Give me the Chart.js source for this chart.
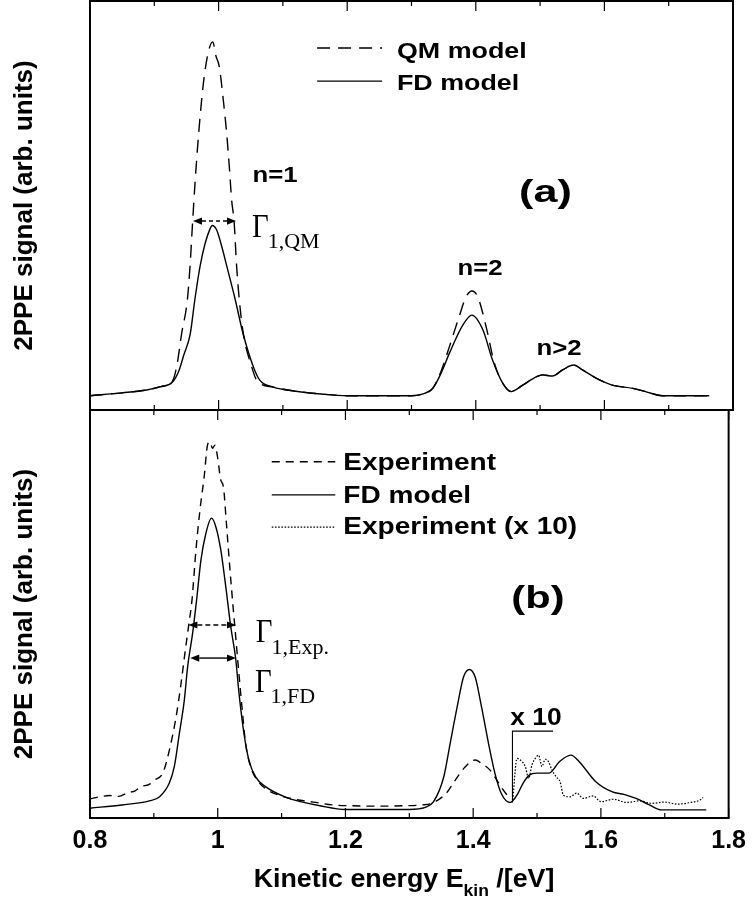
<!DOCTYPE html>
<html>
<head>
<meta charset="utf-8">
<script src="https://cdn.jsdelivr.net/npm/chart.js@4.4.1/dist/chart.umd.min.js"></script>
<style>
html,body{margin:0;padding:0;background:#fff;}
#wrap{position:relative;width:754px;height:898px;background:#fff;}
canvas{position:absolute;left:0;top:0;}
</style>
</head>
<body>
<div id="wrap">
<canvas id="cTop" width="754" height="898"></canvas>
<canvas id="cBot" width="754" height="898"></canvas>
</div>
<script>
// ---------------- data ----------------
const xTickLabels = ['0.8', '1', '1.2', '1.4', '1.6', '1.8'];

// panel (a)
const energyTopQM = [0.800,0.850,0.888,0.910,0.928,0.9348,0.9425,0.9514,0.9555,0.9597,0.9633,0.967,0.9712,0.9763,0.983,0.9908,0.996,1.0011,1.0073,1.0126,1.0167,1.0203,1.024,1.0281,1.0322,1.0384,1.0514,1.0592,1.085,1.12,1.16,1.20,1.30,1.315,1.333,1.346,1.359,1.374,1.385,1.394,1.403,1.416,1.429,1.442,1.455,1.473,1.494,1.504,1.519,1.535,1.552,1.566,1.587,1.612,1.644,1.664,1.690,1.763];
const signalTopQM = [3.5,4.2,4.9,5.7,7.0,10.6,18.7,26.9,35.0,46.3,55.4,63.6,71.7,79.8,86.8,90.0,86.5,83.9,75.8,67.6,59.4,51.3,46.3,35.0,26.9,18.7,10.6,7.3,5.6,4.6,3.9,3.5,3.5,3.8,5.3,9.5,15.5,22.8,27.7,29.1,27.7,20.4,11.4,6.5,4.5,6.1,8.1,8.6,8.3,9.8,11.0,9.8,7.8,6.1,5.3,4.5,3.5,3.5];

const energyTopFD = [0.800,0.850,0.888,0.910,0.928,0.938,0.946,0.956,0.963,0.971,0.979,0.987,0.990,0.997,1.005,1.013,1.026,1.038,1.054,1.064,1.085,1.12,1.16,1.20,1.30,1.315,1.333,1.346,1.359,1.380,1.394,1.411,1.426,1.442,1.455,1.473,1.494,1.504,1.519,1.535,1.552,1.566,1.587,1.612,1.644,1.664,1.690,1.763];
const signalTopFD = [3.5,4.2,4.9,5.7,6.8,9.5,13.5,18.7,26.9,35.0,40.7,44.4,45.1,44.0,39.9,35.0,26.9,18.7,10.6,7.3,5.6,4.6,3.9,3.5,3.5,3.8,5.3,9.0,13.9,20.8,23.2,19.6,12.2,6.5,4.5,6.1,8.1,8.6,8.3,9.8,11.0,9.8,7.8,6.1,5.3,4.5,3.5,3.5];

// panel (b)
const energyBotExp = [0.800,0.815,0.831,0.845,0.859,0.870,0.880,0.892,0.901,0.914,0.9244,0.9348,0.9426,0.9493,0.9545,0.9597,0.9659,0.9722,0.9788,0.984,0.9877,0.9918,0.9955,0.9996,1.0048,1.0089,1.0136,1.0188,1.024,1.0266,1.0322,1.0384,1.0436,1.0514,1.0618,1.075,1.0955,1.12,1.15,1.18,1.21,1.25,1.29,1.32,1.335,1.358,1.372,1.388,1.403,1.413,1.426,1.437,1.447,1.457];
const signalBotExp = [4.7,5.2,5.5,5.3,6.2,6.6,7.7,8.2,9.3,11.0,16.7,24.8,33.0,41.2,47.2,53.4,65.7,75.5,83.7,91.4,92.2,90.6,91.4,88.6,82.8,81.2,72.2,61.6,51.8,47.2,37.1,26.5,18.3,12.6,9.3,7.2,5.6,4.6,3.9,3.2,3.0,2.9,3.0,3.2,3.6,6.1,9.3,12.6,14.2,13.4,11.8,9.3,6.9,4.8];

const energyBotFD = [0.800,0.850,0.893,0.909,0.924,0.932,0.940,0.9477,0.9529,0.9607,0.9669,0.9737,0.9815,0.9902,0.997,1.0048,1.0126,1.0204,1.0281,1.0333,1.041,1.0488,1.0593,1.0748,1.105,1.13,1.16,1.20,1.30,1.325,1.338,1.354,1.364,1.375,1.385,1.394,1.403,1.413,1.424,1.434,1.444,1.458,1.470,1.478,1.488,1.499,1.519,1.535,1.553,1.566,1.592,1.618,1.636,1.655,1.675,1.695,1.765];
const signalBotFD = [2.4,3.2,4.2,5.2,8.5,12.6,20.8,28.9,37.1,45.3,53.4,63.2,69.8,73.5,71.4,65.7,56.7,46.9,39.1,30.6,20.8,14.2,10.1,7.7,5.2,4.0,3.0,2.1,2.1,2.6,4.0,10.1,18.3,27.3,34.6,36.4,34.6,27.3,18.3,11.0,6.0,3.8,6.0,8.5,10.5,11.0,11.0,13.8,15.4,13.8,8.9,6.4,5.8,4.8,3.3,2.0,2.0];

const energyBotExp10 = [1.462,1.4687,1.4739,1.4817,1.4869,1.492,1.4972,1.5025,1.5076,1.5128,1.518,1.5232,1.530,1.5361,1.5413,1.5517,1.562,1.5724,1.588,1.600,1.620,1.640,1.660,1.680,1.700,1.720,1.740,1.755,1.760];
const signalBotExp10 = [4.5,14.6,14.2,12.6,9.7,13.0,14.6,15.4,12.6,14.4,13.8,11.8,10.1,8.9,5.6,5.2,6.1,4.8,5.4,4.0,4.6,3.8,4.2,3.6,3.9,3.4,3.8,4.4,5.0];

// ---------------- helpers ----------------
const SANS = "'Liberation Sans', Arial, Helvetica, sans-serif";
const SERIF = "'Liberation Serif', 'Times New Roman', serif";
Chart.defaults.font.family = SANS;
Chart.defaults.color = '#000';

function pts(xs, ys) { return xs.map((x, i) => ({ x: x, y: ys[i] })); }

function lineDs(label, xs, ys, dash, width) {
  return {
    label: label, data: pts(xs, ys), borderColor: '#000', backgroundColor: '#000',
    borderWidth: width, borderDash: dash, pointRadius: 0, fill: false,
    cubicInterpolationMode: 'monotone'
  };
}

function isMajorTick(v) { return xTickLabels.includes(String(Math.round(v * 10) / 10)); }

function drawText(ctx, txt, x, y, font, sx, align) {
  ctx.save();
  ctx.font = font; ctx.textBaseline = 'alphabetic'; ctx.textAlign = 'left';
  const w = ctx.measureText(txt).width * sx;
  const x0 = align === 'center' ? x - w / 2 : x;
  ctx.translate(x0, y); ctx.scale(sx, 1);
  ctx.fillStyle = '#000'; ctx.fillText(txt, 0, 0);
  ctx.restore();
  return w;
}

function drawArrow(ctx, x1, x2, y, dash) {
  const hl = 9, hw = 3.6;
  ctx.save();
  ctx.strokeStyle = '#000'; ctx.fillStyle = '#000'; ctx.lineWidth = 1.4;
  ctx.setLineDash(dash);
  ctx.beginPath(); ctx.moveTo(x1 + hl, y); ctx.lineTo(x2 - hl, y); ctx.stroke();
  ctx.setLineDash([]);
  ctx.beginPath(); ctx.moveTo(x1, y); ctx.lineTo(x1 + hl, y - hw); ctx.lineTo(x1 + hl, y + hw); ctx.closePath(); ctx.fill();
  ctx.beginPath(); ctx.moveTo(x2, y); ctx.lineTo(x2 - hl, y - hw); ctx.lineTo(x2 - hl, y + hw); ctx.closePath(); ctx.fill();
  ctx.restore();
}

function makeDecor(cfg) {
  return {
    id: 'decor' + cfg.name,
    afterDraw(chart) {
      const ctx = chart.ctx, a = chart.chartArea;
      const xs = chart.scales.x, ys = chart.scales.y;
      const px = v => xs.getPixelForValue(v), py = v => ys.getPixelForValue(v);
      ctx.save();
      // frame
      ctx.strokeStyle = '#000'; ctx.lineWidth = 2; ctx.setLineDash([]);
      ctx.strokeRect(a.left, a.top, a.right - a.left, a.bottom - a.top);
      // inward tick marks on top and bottom edges
      ctx.lineWidth = 1.2;
      xs.ticks.forEach(t => {
        const x = px(t.value);
        const len = isMajorTick(t.value) ? 10 : 5;
        ctx.beginPath();
        ctx.moveTo(x, a.top); ctx.lineTo(x, a.top + len);
        ctx.moveTo(x, a.bottom); ctx.lineTo(x, a.bottom - len);
        ctx.stroke();
      });
      // y title
      ctx.save();
      ctx.translate(a.left - 65, (a.top + a.bottom) / 2);
      ctx.rotate(-Math.PI / 2);
      ctx.font = 'bold 26px ' + SANS; ctx.textAlign = 'center'; ctx.textBaseline = 'middle';
      ctx.fillStyle = '#000';
      ctx.fillText(cfg.yTitle, 0, 0);
      ctx.restore();
      // legend
      const lg = cfg.legend;
      lg.rows.forEach(r => {
        const ds = chart.data.datasets[r.ds];
        ctx.save();
        ctx.strokeStyle = '#000'; ctx.lineWidth = ds.borderWidth;
        ctx.setLineDash(ds.borderDash || []);
        ctx.beginPath(); ctx.moveTo(px(lg.x1), py(r.y)); ctx.lineTo(px(lg.x2), py(r.y)); ctx.stroke();
        ctx.restore();
        drawText(ctx, ds.label, px(lg.xt), py(r.ty), lg.font, lg.sx, 'left');
      });
      // text labels
      cfg.labels.forEach(l => drawText(ctx, l.t, px(l.x), py(l.y), l.font, l.sx, 'center'));
      // width arrows
      cfg.arrows.forEach(ar => drawArrow(ctx, px(ar.x1), px(ar.x2), py(ar.y), ar.dash));
      // Gamma labels
      cfg.gammas.forEach(g => {
        const x = px(g.x), y = py(g.y);
        const w = drawText(ctx, 'Γ', x, y, '34px ' + SERIF, 0.85, 'left');
        drawText(ctx, g.sub, x + w - 1, y + 11.5, '20px ' + SERIF, 1.1, 'left');
      });
      // bracket
      if (cfg.bracket) {
        const b = cfg.bracket;
        ctx.save(); ctx.strokeStyle = '#000'; ctx.lineWidth = 1.1; ctx.setLineDash([]);
        ctx.beginPath();
        ctx.moveTo(px(b.x1), py(b.y1)); ctx.lineTo(px(b.x1), py(b.y2)); ctx.lineTo(px(b.x2), py(b.y2));
        ctx.stroke(); ctx.restore();
      }
      // x title with subscript
      if (cfg.xTitle) {
        const big = 'bold 26px ' + SANS, small = 'bold 17px ' + SANS;
        ctx.font = big; const w1 = ctx.measureText(cfg.xTitle[0]).width;
        const w3 = ctx.measureText(cfg.xTitle[2]).width;
        ctx.font = small; const w2 = ctx.measureText(cfg.xTitle[1]).width;
        const sx = 1.03;
        const total = (w1 + w2 + w3) * sx;
        let x = a.left + 314 - total / 2;
        const y = a.bottom + 69;
        x += drawText(ctx, cfg.xTitle[0], x, y, big, sx, 'left');
        x += drawText(ctx, cfg.xTitle[1], x, y + 9, small, sx, 'left');
        drawText(ctx, cfg.xTitle[2], x, y, big, sx, 'left');
      }
      ctx.restore();
    }
  };
}

const legendFontTop = 'bold 22px ' + SANS;
const legendFontBot = 'bold 23px ' + SANS;
const noteFont = 'bold 22px ' + SANS;
const panelFont = 'bold 32px ' + SANS;

const topCfg = {
  name: 'Top',
  yTitle: '2PPE signal (arb. units)',
  legend: { x1: 1.1532, x2: 1.2543, xt: 1.2774, font: legendFontTop, sx: 1.22,
            rows: [{ ds: 0, y: 88.5, ty: 86.0 }, { ds: 1, y: 80.4, ty: 78.2 }] },
  labels: [
    { t: 'n=1', x: 1.0877, y: 55.7, font: noteFont, sx: 1.17 },
    { t: 'n=2', x: 1.4065, y: 33.0, font: noteFont, sx: 1.17 },
    { t: 'n>2', x: 1.5294, y: 13.4, font: noteFont, sx: 1.17 },
    { t: '(a)', x: 1.5084, y: 50.9, font: panelFont, sx: 1.35 }
  ],
  arrows: [{ x1: 0.9602, x2: 1.0271, y: 46.2, dash: [4, 3] }],
  gammas: [{ sub: '1,QM', x: 1.0519, y: 42.4 }]
};

const botCfg = {
  name: 'Bot',
  yTitle: '2PPE signal (arb. units)',
  legend: { x1: 1.0846, x2: 1.1841, xt: 1.1966, font: legendFontBot, sx: 1.22,
            rows: [{ ds: 0, y: 87.3, ty: 85.3 }, { ds: 1, y: 79.2, ty: 77.1 }, { ds: 2, y: 71.3, ty: 69.5 }] },
  labels: [
    { t: '(b)', x: 1.5014, y: 51.4, font: panelFont, sx: 1.3 },
    { t: 'x 10', x: 1.4983, y: 22.8, font: 'bold 24px ' + SANS, sx: 1.1 }
  ],
  arrows: [
    { x1: 0.954, x2: 1.0286, y: 47.3, dash: [5, 3] },
    { x1: 0.957, x2: 1.0286, y: 39.2, dash: [] }
  ],
  gammas: [{ sub: '1,Exp.', x: 1.0597, y: 43.1 }, { sub: '1,FD', x: 1.0582, y: 30.9 }],
  bracket: { x1: 1.4615, x2: 1.525, y1: 3.8, y2: 21.3 },
  xTitle: ['Kinetic energy E', 'kin', ' /[eV]']
};

function xScale(show) {
  return {
    type: 'linear', min: 0.8, max: 1.8, display: show,
    grid: { display: false, drawTicks: false },
    border: { display: false },
    ticks: {
      stepSize: 0.1, autoSkip: false, maxRotation: 0, minRotation: 0, padding: 8,
      color: '#000', font: { size: 25, weight: 'bold', family: SANS },
      callback: v => { const s = String(Math.round(v * 10) / 10); return xTickLabels.includes(s) ? s : ''; }
    }
  };
}
const yScale = { type: 'linear', min: 0, max: 100, display: false };

new Chart(document.getElementById('cTop'), {
  type: 'line',
  data: { datasets: [
    lineDs('QM model', energyTopQM, signalTopQM, [13, 8], 1.4),
    lineDs('FD model', energyTopFD, signalTopFD, [], 1.4)
  ] },
  options: {
    responsive: false, animation: false, events: [],
    layout: { padding: { left: 90, right: 21, top: 1, bottom: 488 } },
    scales: { x: xScale(false), y: yScale },
    plugins: { legend: { display: false }, tooltip: { enabled: false } }
  },
  plugins: [makeDecor(topCfg)]
});

new Chart(document.getElementById('cBot'), {
  type: 'line',
  data: { datasets: [
    lineDs('Experiment', energyBotExp, signalBotExp, [8, 6], 1.4),
    lineDs('FD model', energyBotFD, signalBotFD, [], 1.4),
    lineDs('Experiment (x 10)', energyBotExp10, signalBotExp10, [1.6, 1.6], 1.2)
  ] },
  options: {
    responsive: false, animation: false, events: [],
    layout: { padding: { left: 90, right: 21, top: 410, bottom: 34 } },
    scales: { x: xScale(true), y: yScale },
    plugins: { legend: { display: false }, tooltip: { enabled: false } }
  },
  plugins: [makeDecor(botCfg)]
});
</script>
</body>
</html>
